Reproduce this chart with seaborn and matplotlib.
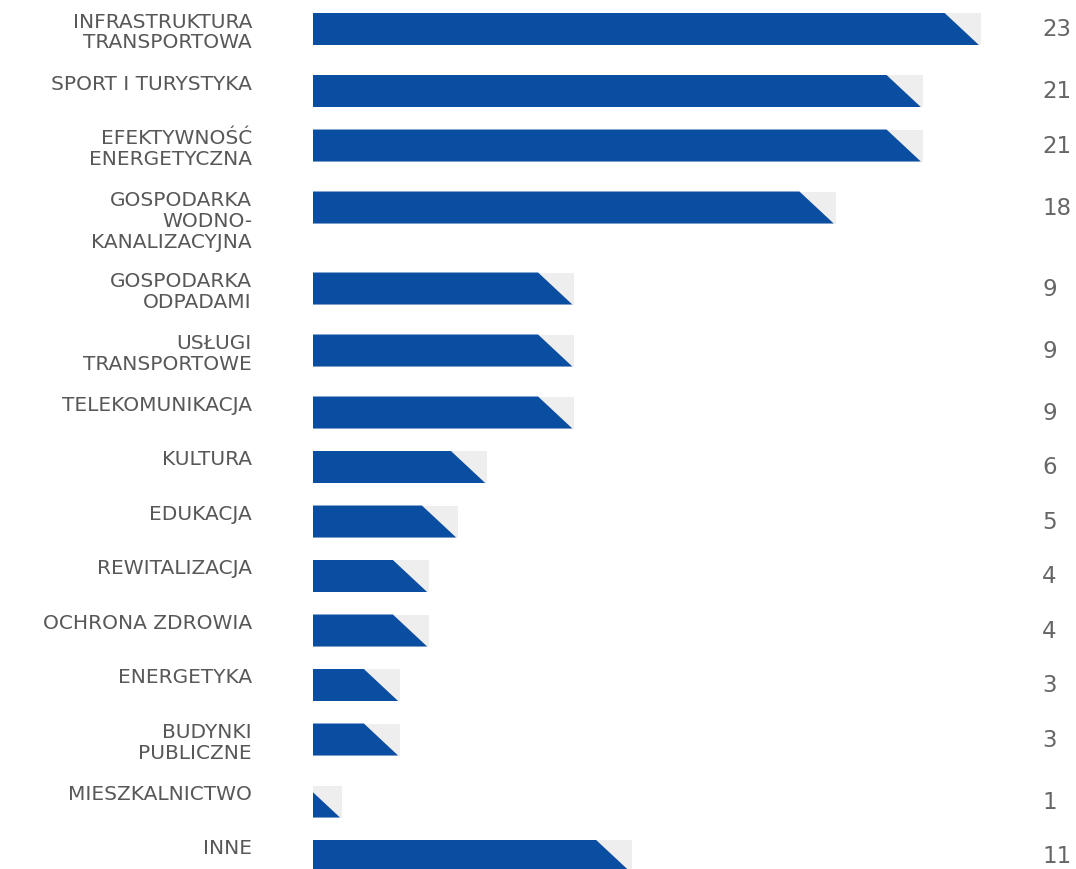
import matplotlib
matplotlib.use("Agg")
import matplotlib.pyplot as plt
import seaborn as sns
import numpy as np

# ---- data ----
categories = [
    "INFRASTRUKTURA\nTRANSPORTOWA",
    "SPORT I TURYSTYKA",
    "EFEKTYWNOŚĆ\nENERGETYCZNA",
    "GOSPODARKA\nWODNO-\nKANALIZACYJNA",
    "GOSPODARKA\nODPADAMI",
    "USŁUGI\nTRANSPORTOWE",
    "TELEKOMUNIKACJA",
    "KULTURA",
    "EDUKACJA",
    "REWITALIZACJA",
    "OCHRONA ZDROWIA",
    "ENERGETYKA",
    "BUDYNKI\nPUBLICZNE",
    "MIESZKALNICTWO",
    "INNE",
]
values = [23, 21, 21, 18, 9, 9, 9, 6, 5, 4, 4, 3, 3, 1, 11]

# ---- style ----
BLUE = "#0a4ea2"
GRAY = "#eeeeee"
LABEL_C = "#585858"
VALUE_C = "#666666"

sns.set_theme(style="white")
plt.rcParams["font.family"] = ["DejaVu Sans"]

W, H = 1076, 870
fig = plt.figure(figsize=(W / 100, H / 100), dpi=100)
ax = fig.add_axes([0, 0, 1, 1])

# layout: rows grow with number of label lines (pixel units on y)
px_per_unit = 29.04
x0_px = 313
row_h = {1: 54.5, 2: 62.0, 3: 81.0}
bar_h = 32.0
n_lines = [c.count("\n") + 1 for c in categories]
tops = [14.0]
for nl in n_lines[:-1]:
    tops.append(tops[-1] + row_h[nl])
centers = [t + bar_h / 2 for t in tops]
min_gap = np.min(np.diff(centers))

# background (full-length) bars
sns.barplot(x=values, y=centers, orient="h", native_scale=True,
            width=bar_h / min_gap, color=GRAY, saturation=1,
            linewidth=0, ax=ax)

# blue bars with slanted right end
cut = 1.25
for p, v in zip(sorted(ax.patches, key=lambda r: r.get_y()), values):
    y0 = p.get_y()
    h = p.get_height()
    y1 = y0 + h
    top_end = v - cut
    bot_end = v - 0.07
    if top_end >= 0:
        xs = [0, top_end, bot_end, 0]
        ys = [y0, y0, y1, y1]
    else:
        frac = -top_end / (bot_end - top_end)
        xs = [0, bot_end, 0]
        ys = [y0 + frac * h, y1, y1]
    ax.fill(xs, ys, color=BLUE, linewidth=0, zorder=3)

ax.set_xlim(-x0_px / px_per_unit, (W - x0_px) / px_per_unit)
ax.set_ylim(H, 0)
ax.axis("off")

label_x = (252 - x0_px) / px_per_unit
value_x = (1042 - x0_px) / px_per_unit
for cat, v, t, c in zip(categories, values, tops, centers):
    ax.text(label_x, t - 1.5, cat, ha="right", va="top", multialignment="right",
            fontsize=14.5, color=LABEL_C, linespacing=1.12)
    ax.text(value_x, c, str(v), ha="left", va="center",
            fontsize=16.5, color=VALUE_C)

fig.savefig("out.png", dpi=100)
